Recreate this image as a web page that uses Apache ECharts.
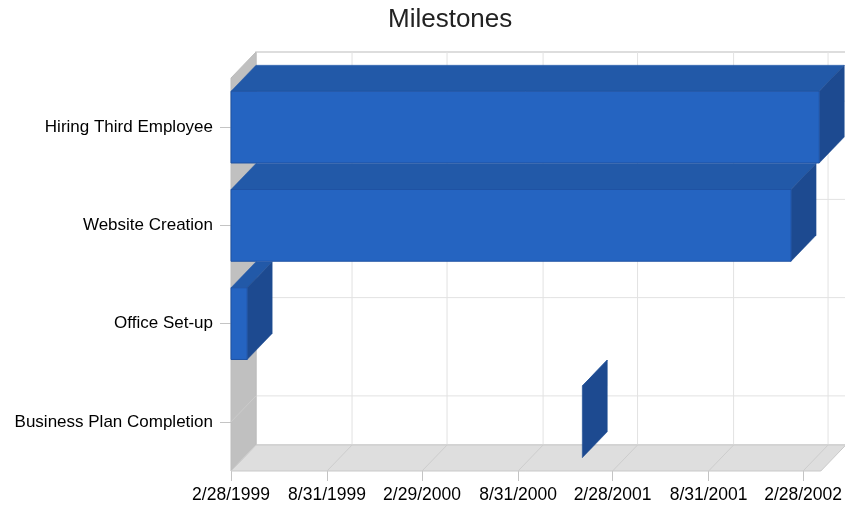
<!DOCTYPE html>
<html>
<head>
<meta charset="utf-8">
<title>Milestones</title>
<script src="https://cdn.jsdelivr.net/npm/echarts@6/dist/echarts.min.js"></script>
<style>
  html, body { margin: 0; padding: 0; background: #fff; }
  #chart { width: 845px; height: 507px; }
</style>
</head>
<body>
<div id="chart"></div>
<script>
// Milestone names, bottom row first (category axis runs upward)
const milestones = ['Business Plan Completion', 'Office Set-up', 'Website Creation', 'Hiring Third Employee'];
const startDates = ['2001-01-01', '1999-02-28', '1999-02-28', '1999-02-28'];
const endDates   = ['2001-01-01', '1999-03-31', '2002-02-05', '2002-03-31'];

// Date axis: range and labelled ticks
const axisStart = '1999-02-28';
const axisEnd   = '2002-04-03';
const tickDates = ['1999-02-28', '1999-08-31', '2000-02-29', '2000-08-31', '2001-02-28', '2001-08-31', '2002-02-28'];

const toMs = s => { const [y, m, d] = s.split('-').map(Number); return Date.UTC(y, m - 1, d); };
const fmtDate = ms => { const d = new Date(ms); return (d.getUTCMonth() + 1) + '/' + d.getUTCDate() + '/' + d.getUTCFullYear(); };
const tickValues = tickDates.map(toMs);

// Depth offset of the pseudo-3D box
const DX = 25, DY = -26;
const FONT = "'Liberation Sans', Arial, sans-serif";

const chart = echarts.init(document.getElementById('chart'), null, { renderer: 'canvas' });

function renderFrame(params, api) {
  const cs = params.coordSys;
  const x0 = cs.x, x1 = cs.x + cs.width, y0 = cs.y, y1 = cs.y + cs.height;
  const children = [];
  // back wall
  children.push({ type: 'rect', shape: { x: x0 + DX, y: y0 + DY, width: cs.width, height: cs.height },
    style: { fill: '#ffffff', stroke: '#d2d2d2', lineWidth: 1.5 } });
  // back wall grid: date ticks
  tickValues.forEach(v => {
    const x = api.coord([v, 0])[0];
    children.push({ type: 'line', shape: { x1: x + DX, y1: y0 + DY, x2: x + DX, y2: y1 + DY },
      style: { stroke: '#e2e2e2', lineWidth: 1 } });
  });
  // back wall grid: category centres
  milestones.forEach((m, i) => {
    const y = api.coord([0, i])[1];
    children.push({ type: 'line', shape: { x1: x0 + DX, y1: y + DY, x2: x1 + DX, y2: y + DY },
      style: { stroke: '#e2e2e2', lineWidth: 1 } });
  });
  // left wall
  children.push({ type: 'polygon', shape: { points: [[x0, y0], [x0 + DX, y0 + DY], [x0 + DX, y1 + DY], [x0, y1]] },
    style: { fill: '#c0c0c0', stroke: '#bcbcbc', lineWidth: 1 } });
  milestones.forEach((m, i) => {
    const y = api.coord([0, i])[1];
    children.push({ type: 'line', shape: { x1: x0, y1: y, x2: x0 + DX, y2: y + DY },
      style: { stroke: '#cbcbcb', lineWidth: 1 } });
  });
  // floor
  children.push({ type: 'polygon', shape: { points: [[x0, y1], [x0 + DX, y1 + DY], [x1 + DX, y1 + DY], [x1, y1]] },
    style: { fill: '#dedede', stroke: '#c9c9c9', lineWidth: 1 } });
  tickValues.forEach(v => {
    const x = api.coord([v, 0])[0];
    children.push({ type: 'line', shape: { x1: x, y1: y1, x2: x + DX, y2: y1 + DY },
      style: { stroke: '#cdcdcd', lineWidth: 1 } });
  });
  return { type: 'group', children };
}

function renderBar(params, api) {
  const cat = api.value(0);
  const pS = api.coord([api.value(1), cat]);
  const pE = api.coord([api.value(2), cat]);
  const h = api.size([0, 1])[1] * 0.73;
  const xs = pS[0], xe = pE[0];
  const yt = pS[1] - h / 2, yb = pS[1] + h / 2;
  return {
    type: 'group',
    children: [
      { type: 'polygon', shape: { points: [[xs, yt], [xs + DX, yt + DY], [xe + DX, yt + DY], [xe, yt]] },
        style: { fill: '#2259a8', stroke: '#2259a8', lineWidth: 0.5 } },
      { type: 'polygon', shape: { points: [[xe, yt], [xe + DX, yt + DY], [xe + DX, yb + DY], [xe, yb]] },
        style: { fill: '#1d4a90', stroke: '#1d4a90', lineWidth: 0.5 } },
      { type: 'rect', shape: { x: xs, y: yt, width: Math.max(xe - xs, 0), height: h },
        style: { fill: '#2564c1', stroke: xe - xs > 1 ? '#1f52a3' : null, lineWidth: 1 } }
    ]
  };
}

const barData = milestones.map((m, i) => [i, toMs(startDates[i]), toMs(endDates[i])]);

chart.setOption({
  animation: false,
  backgroundColor: '#ffffff',
  title: {
    text: 'Milestones', left: 383, top: 2,
    textStyle: { fontFamily: FONT, fontSize: 26, fontWeight: 'normal', color: '#222' }
  },
  grid: { left: 231, right: 24, top: 78, bottom: 36, containLabel: false },
  xAxis: {
    type: 'value', min: toMs(axisStart), max: toMs(axisEnd),
    axisLine: { show: false },
    splitLine: { show: false },
    axisTick: { show: true, customValues: tickValues, length: 10, lineStyle: { color: '#c4c4c4' } },
    axisLabel: { customValues: tickValues, formatter: v => fmtDate(v), margin: 15,
      fontFamily: FONT, fontSize: 17.5, color: '#000' }
  },
  yAxis: {
    type: 'category', data: milestones,
    axisLine: { show: false },
    splitLine: { show: false },
    axisTick: { show: true, alignWithLabel: true, length: 11, lineStyle: { color: '#c4c4c4' } },
    axisLabel: { margin: 18, fontFamily: FONT, fontSize: 17, color: '#000' }
  },
  series: [
    { type: 'custom', name: 'frame', renderItem: renderFrame, data: [[0]], silent: true, z: 1, clip: false },
    { type: 'custom', name: 'Milestones', renderItem: renderBar, data: barData, encode: { x: [1, 2], y: 0 }, z: 2, clip: false }
  ]
});
</script>
</body>
</html>
